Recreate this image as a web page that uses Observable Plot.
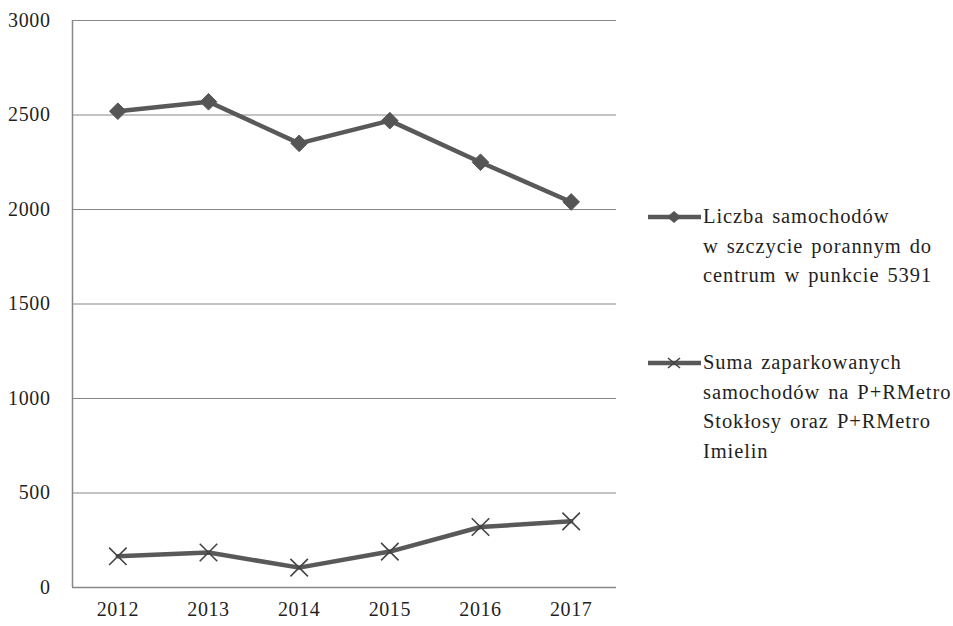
<!DOCTYPE html>
<html>
<head>
<meta charset="utf-8">
<script src="https://cdn.jsdelivr.net/npm/d3@7"></script>
<script src="https://cdn.jsdelivr.net/npm/@observablehq/plot@0.6"></script>
<style>
  html, body { margin: 0; padding: 0; background: #fff; }
  #wrap { position: relative; width: 953px; height: 626px; }
  #wrap svg text { letter-spacing: 0.6px; }
  .legend { position: absolute; left: 648px; font-family: "Liberation Serif", "Times New Roman", serif; font-size: 20.5px; color: #1f1f1f; line-height: 29.5px; letter-spacing: 0.9px; word-spacing: 2px; }
  .legend .item { display: flex; align-items: flex-start; }
  .legend svg { flex: none; margin-top: 5px; }
  .legend .txt { margin-left: 2px; white-space: nowrap; }
</style>
</head>
<body>
<div id="wrap"></div>
<script>
const years = [2012, 2013, 2014, 2015, 2016, 2017];
const carsMorningPeak = [2520, 2570, 2350, 2470, 2250, 2040];
const parkedPR = [165, 185, 105, 190, 320, 350];
const yTicks = [0, 500, 1000, 1500, 2000, 2500, 3000];
const seriesNames = [
  ["Liczba samochodów", "w szczycie porannym do", "centrum w punkcie 5391"],
  ["Suma zaparkowanych", "samochodów na P+RMetro", "Stokłosy oraz P+RMetro", "Imielin"]
];

const lineColor = "#595959";
const gridColor = "#878787";

const rows1 = years.map((y, i) => ({year: y, value: carsMorningPeak[i]}));
const rows2 = years.map((y, i) => ({year: y, value: parkedPR[i]}));

const chart = Plot.plot({
  width: 953,
  height: 626,
  marginLeft: 72,
  marginRight: 337,
  marginTop: 20,
  marginBottom: 39,
  style: {fontFamily: "'Liberation Serif', 'Times New Roman', serif", fontSize: "20px", color: "#1f1f1f", background: "#fff"},
  x: {domain: [years[0] - 0.5, years[years.length - 1] + 0.5]},
  y: {domain: [0, 3000]},
  marks: [
    Plot.gridY(yTicks.slice(1), {stroke: gridColor, strokeOpacity: 1, strokeWidth: 1.2}),
    Plot.ruleY([0], {stroke: gridColor, strokeWidth: 1.5}),
    Plot.ruleX([years[0] - 0.5], {y1: 0, y2: 3000, stroke: gridColor, strokeWidth: 1.5}),
    Plot.axisY(yTicks, {tickSize: 0, tickPadding: 22, label: null, tickFormat: d => String(d), fill: "#1f1f1f"}),
    Plot.axisX(years, {tickSize: 0, tickPadding: 14, label: null, tickFormat: d => String(d), fill: "#1f1f1f"}),
    Plot.line(rows1, {x: "year", y: "value", stroke: lineColor, strokeWidth: 4.5}),
    Plot.dot(rows1, {x: "year", y: "value", symbol: "diamond2", r: 7.5, fill: "#555", stroke: "#555", strokeWidth: 1}),
    Plot.line(rows2, {x: "year", y: "value", stroke: lineColor, strokeWidth: 4.5}),
    Plot.dot(rows2, {x: "year", y: "value", symbol: "times", r: 8, stroke: "#444", strokeWidth: 1.6, fill: "none"})
  ]
});

const wrap = document.getElementById("wrap");
wrap.appendChild(chart);

// legend to the right of the plot area
const legendTops = [202, 348];
const symbols = [
  '<polygon points="26,4 33,10 26,16 19,10" fill="#555"/>',
  '<path d="M20,5 L32,15 M32,5 L20,15" stroke="#444" stroke-width="1.6" fill="none"/>'
];
seriesNames.forEach((lines, i) => {
  const div = document.createElement("div");
  div.className = "legend";
  div.style.top = legendTops[i] + "px";
  div.innerHTML = `<div class="item"><svg width="53" height="20">
      <line x1="0" y1="10" x2="53" y2="10" stroke="${lineColor}" stroke-width="4.5"/>${symbols[i]}</svg>
      <div class="txt">${lines.join("<br>")}</div></div>`;
  wrap.appendChild(div);
});
</script>
</body>
</html>
